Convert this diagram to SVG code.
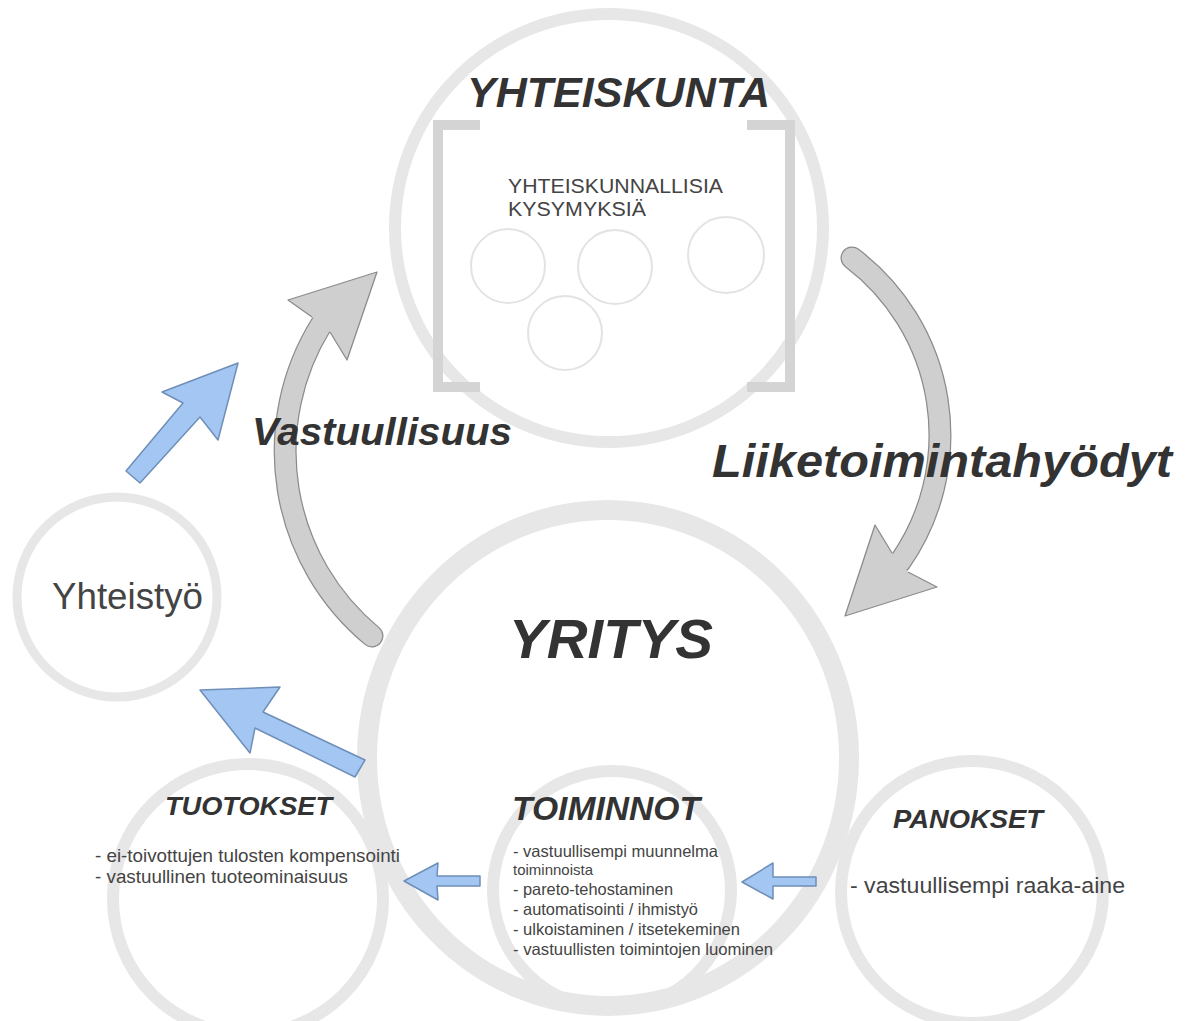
<svg xmlns="http://www.w3.org/2000/svg" width="1186" height="1021" viewBox="0 0 1186 1021">
<defs>
<style>
.ring{fill:none;stroke:#e7e7e7}
.small{fill:none;stroke:#e3e3e3;stroke-width:2}
.br{fill:none;stroke:#d4d4d4;stroke-width:10}
.h{font-family:"Liberation Sans",Arial,sans-serif;font-weight:bold;font-style:italic;fill:#333}
.t{font-family:"Liberation Sans",Arial,sans-serif;fill:#444}
.bandO{fill:none;stroke:#8c8c8c;stroke-width:23;stroke-linecap:round}
.bandI{fill:none;stroke:#cfcfcf;stroke-width:20.5;stroke-linecap:round}
.head{fill:#cfcfcf;stroke:#8c8c8c;stroke-width:1.3;stroke-linejoin:round}
.blue{fill:#a3c6f2;stroke:#6f8fb8;stroke-width:1.5;stroke-linejoin:round}
</style>
</defs>
<rect width="1186" height="1021" fill="#fff"/>

<g id="yhteiskunta">
<circle class="ring" cx="609" cy="228" r="214" stroke-width="12"/>
<path class="br" d="M480,125 L438,125 L438,387 L480,387"/>
<path class="br" d="M747,125 L790,125 L790,387 L747,387"/>
<circle class="small" cx="508" cy="266" r="37"/>
<circle class="small" cx="615" cy="267" r="37"/>
<circle class="small" cx="726" cy="255" r="38"/>
<circle class="small" cx="565" cy="333" r="37"/>
<text class="h" x="467" y="107" font-size="42" textLength="303" lengthAdjust="spacingAndGlyphs">YHTEISKUNTA</text>
<text class="t" x="508" y="193" font-size="19.5" textLength="215" lengthAdjust="spacingAndGlyphs">YHTEISKUNNALLISIA</text>
<text class="t" x="508" y="216" font-size="19.5" textLength="138" lengthAdjust="spacingAndGlyphs">KYSYMYKSIÄ</text>
</g>

<g id="yritys">
<ellipse class="ring" cx="608" cy="758" rx="241" ry="248" stroke-width="20"/>
<text class="h" x="509" y="658" font-size="56" textLength="204" lengthAdjust="spacingAndGlyphs">YRITYS</text>
</g>

<g id="tuotokset">
<circle class="ring" cx="248" cy="899" r="135" stroke-width="12"/>
<text class="h" x="165" y="815" font-size="25" textLength="167" lengthAdjust="spacingAndGlyphs">TUOTOKSET</text>
<text class="t" x="95" y="862" font-size="18.5" textLength="305" lengthAdjust="spacingAndGlyphs">- ei-toivottujen tulosten kompensointi</text>
<text class="t" x="95" y="883" font-size="18.5" textLength="253" lengthAdjust="spacingAndGlyphs">- vastuullinen tuoteominaisuus</text>
</g>

<g id="toiminnot">
<circle class="ring" cx="612" cy="890" r="119" stroke-width="12"/>
<text class="h" x="512" y="820" font-size="33" textLength="188" lengthAdjust="spacingAndGlyphs">TOIMINNOT</text>
<text class="t" x="513" y="857" font-size="16.5" textLength="205" lengthAdjust="spacingAndGlyphs">- vastuullisempi muunnelma</text>
<text class="t" x="513" y="875" font-size="14.5" textLength="80" lengthAdjust="spacingAndGlyphs">toiminnoista</text>
<text class="t" x="513" y="895" font-size="16.5" textLength="160" lengthAdjust="spacingAndGlyphs">- pareto-tehostaminen</text>
<text class="t" x="513" y="915" font-size="16.5" textLength="185" lengthAdjust="spacingAndGlyphs">- automatisointi / ihmistyö</text>
<text class="t" x="513" y="935" font-size="16.5" textLength="227" lengthAdjust="spacingAndGlyphs">- ulkoistaminen / itsetekeminen</text>
<text class="t" x="513" y="955" font-size="16.5" textLength="260" lengthAdjust="spacingAndGlyphs">- vastuullisten toimintojen luominen</text>
</g>

<g id="panokset">
<circle class="ring" cx="972" cy="892" r="131" stroke-width="12"/>
<text class="h" x="893" y="828" font-size="25" textLength="150" lengthAdjust="spacingAndGlyphs">PANOKSET</text>
<text class="t" x="850" y="893" font-size="22.5" textLength="275" lengthAdjust="spacingAndGlyphs">- vastuullisempi raaka-aine</text>
</g>

<g id="yhteistyo">
<circle class="ring" cx="117" cy="597" r="100" stroke-width="9"/>
<text class="t" x="52" y="609" font-size="36" fill="#333" textLength="151" lengthAdjust="spacingAndGlyphs">Yhteistyö</text>
</g>

<g id="connectors">
<g id="liiketoimintahyodyt-arrow">
<path class="bandO" d="M852,258 A222,222 0 0 1 900,562"/>
<path class="bandI" d="M852,258 A222,222 0 0 1 900,562"/>
<path class="head" d="M892,553 L875,525 L845,616 L937,587 L908,572"/>
</g>
<g id="vastuullisuus-arrow">
<path class="bandO" d="M372,636 A240,240 0 0 1 321,325"/>
<path class="bandI" d="M372,636 A240,240 0 0 1 321,325"/>
<path class="head" d="M330,332 L347,360 L377,272 L288,300 L312,317"/>
</g>
<polygon class="blue" points="140,483 126,471 183,403 162,392 238,363 218,440 200,417"/>
<polygon class="blue" points="365,760 355,777 255,728 250,753 200,690 280,687 263,712"/>
<polygon class="blue" points="480,876 437,876 438,863 404,881 438,900 437,886 480,886"/>
<polygon class="blue" points="816,877 773,877 773,863 742,882 773,899 773,886 816,886"/>
<text class="h" x="252" y="445" font-size="39" textLength="260" lengthAdjust="spacingAndGlyphs">Vastuullisuus</text>
<text class="h" x="712" y="477" font-size="46" textLength="460" lengthAdjust="spacingAndGlyphs">Liiketoimintahyödyt</text>
</g>
</svg>
